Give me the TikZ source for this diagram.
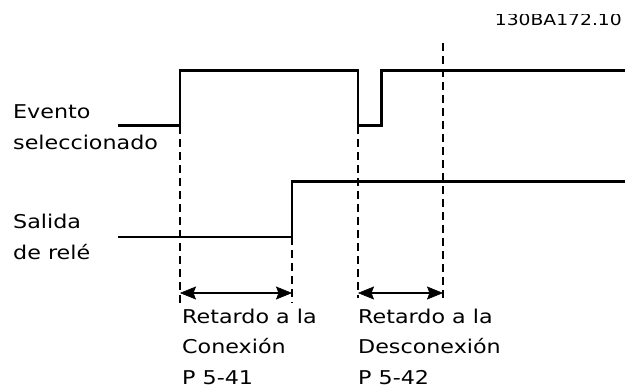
\documentclass[tikz,border=0pt]{standalone}
\usepackage{fontspec}
\setmainfont{DejaVu Sans}[FakeStretch=1.17]
\usetikzlibrary{arrows.meta}
\begin{document}
\begin{tikzpicture}[x=1pt,y=-1pt,
  wave/.style={line width=2.1pt,line join=miter},
  guide/.style={line width=1.5pt,dash pattern=on 8pt off 5pt},
  span/.style={line width=2pt,{Stealth[length=16pt,width=13pt,inset=2.5pt,line width=0.5pt]}-{Stealth[length=16pt,width=13pt,inset=2.5pt,line width=0.5pt]}},
  lbl/.style={anchor=base west,inner sep=0pt,align=left,font=\fontsize{19}{30.5}\selectfont}]
\useasboundingbox (0,0) rectangle (633,389);
% event signal
\coordinate (e0) at (118,125.5);
\coordinate (e1) at (180,125.5);
\coordinate (e2) at (180,70.5);
\coordinate (e3) at (358,70.5);
\coordinate (e4) at (358,125.5);
\coordinate (e5) at (381.5,125.5);
\coordinate (e6) at (381.5,70.5);
\coordinate (e7) at (625,70.5);
\draw[wave] (e0) -- (e1) -- (e2) -- (e3) -- (e4) -- (e5) -- (e6) -- (e7);
% relay signal
\coordinate (r0) at (118,237);
\coordinate (r1) at (292,237);
\coordinate (r2) at (292,181.5);
\coordinate (r3) at (625,181.5);
\draw[wave] (r0) -- (r1) -- (r2) -- (r3);
% guide lines
\coordinate (g1t) at (180,126);
\coordinate (g1b) at (180,303);
\coordinate (g2t) at (292,237);
\coordinate (g2b) at (292,303);
\coordinate (g3t) at (358,126);
\coordinate (g3b) at (358,298);
\coordinate (g4t) at (443,43);
\coordinate (g4b) at (443,298);
\draw[guide] (g1t) -- (g1b);
\draw[guide] (g2t) -- (g2b);
\draw[guide] (g3t) -- (g3b);
\draw[guide] (g4t) -- (g4b);
% delay spans
\coordinate (a1) at (180,293);
\coordinate (a2) at (292,293);
\coordinate (a3) at (358,293);
\coordinate (a4) at (443,293);
\draw[span] (a1) -- (a2);
\draw[span] (a3) -- (a4);
% labels (base = baseline of last line)
\node[lbl] (ev) at (13,149) {Evento\\seleccionado};
\node[lbl] (sa) at (13,259) {Salida\\de relé};
\node[lbl] (on) at (182,384) {Retardo a la\\Conexión\\P 5-41};
\node[lbl] (off) at (358,384) {Retardo a la\\Desconexión\\P 5-42};
\begin{scope}
\clip (460,14) rectangle (633,40);
\node[anchor=base east,inner sep=0pt,font=\fontsize{16}{18}\selectfont] (id) at (622,25) {130BA172.10};
\end{scope}
\end{tikzpicture}
\end{document}
